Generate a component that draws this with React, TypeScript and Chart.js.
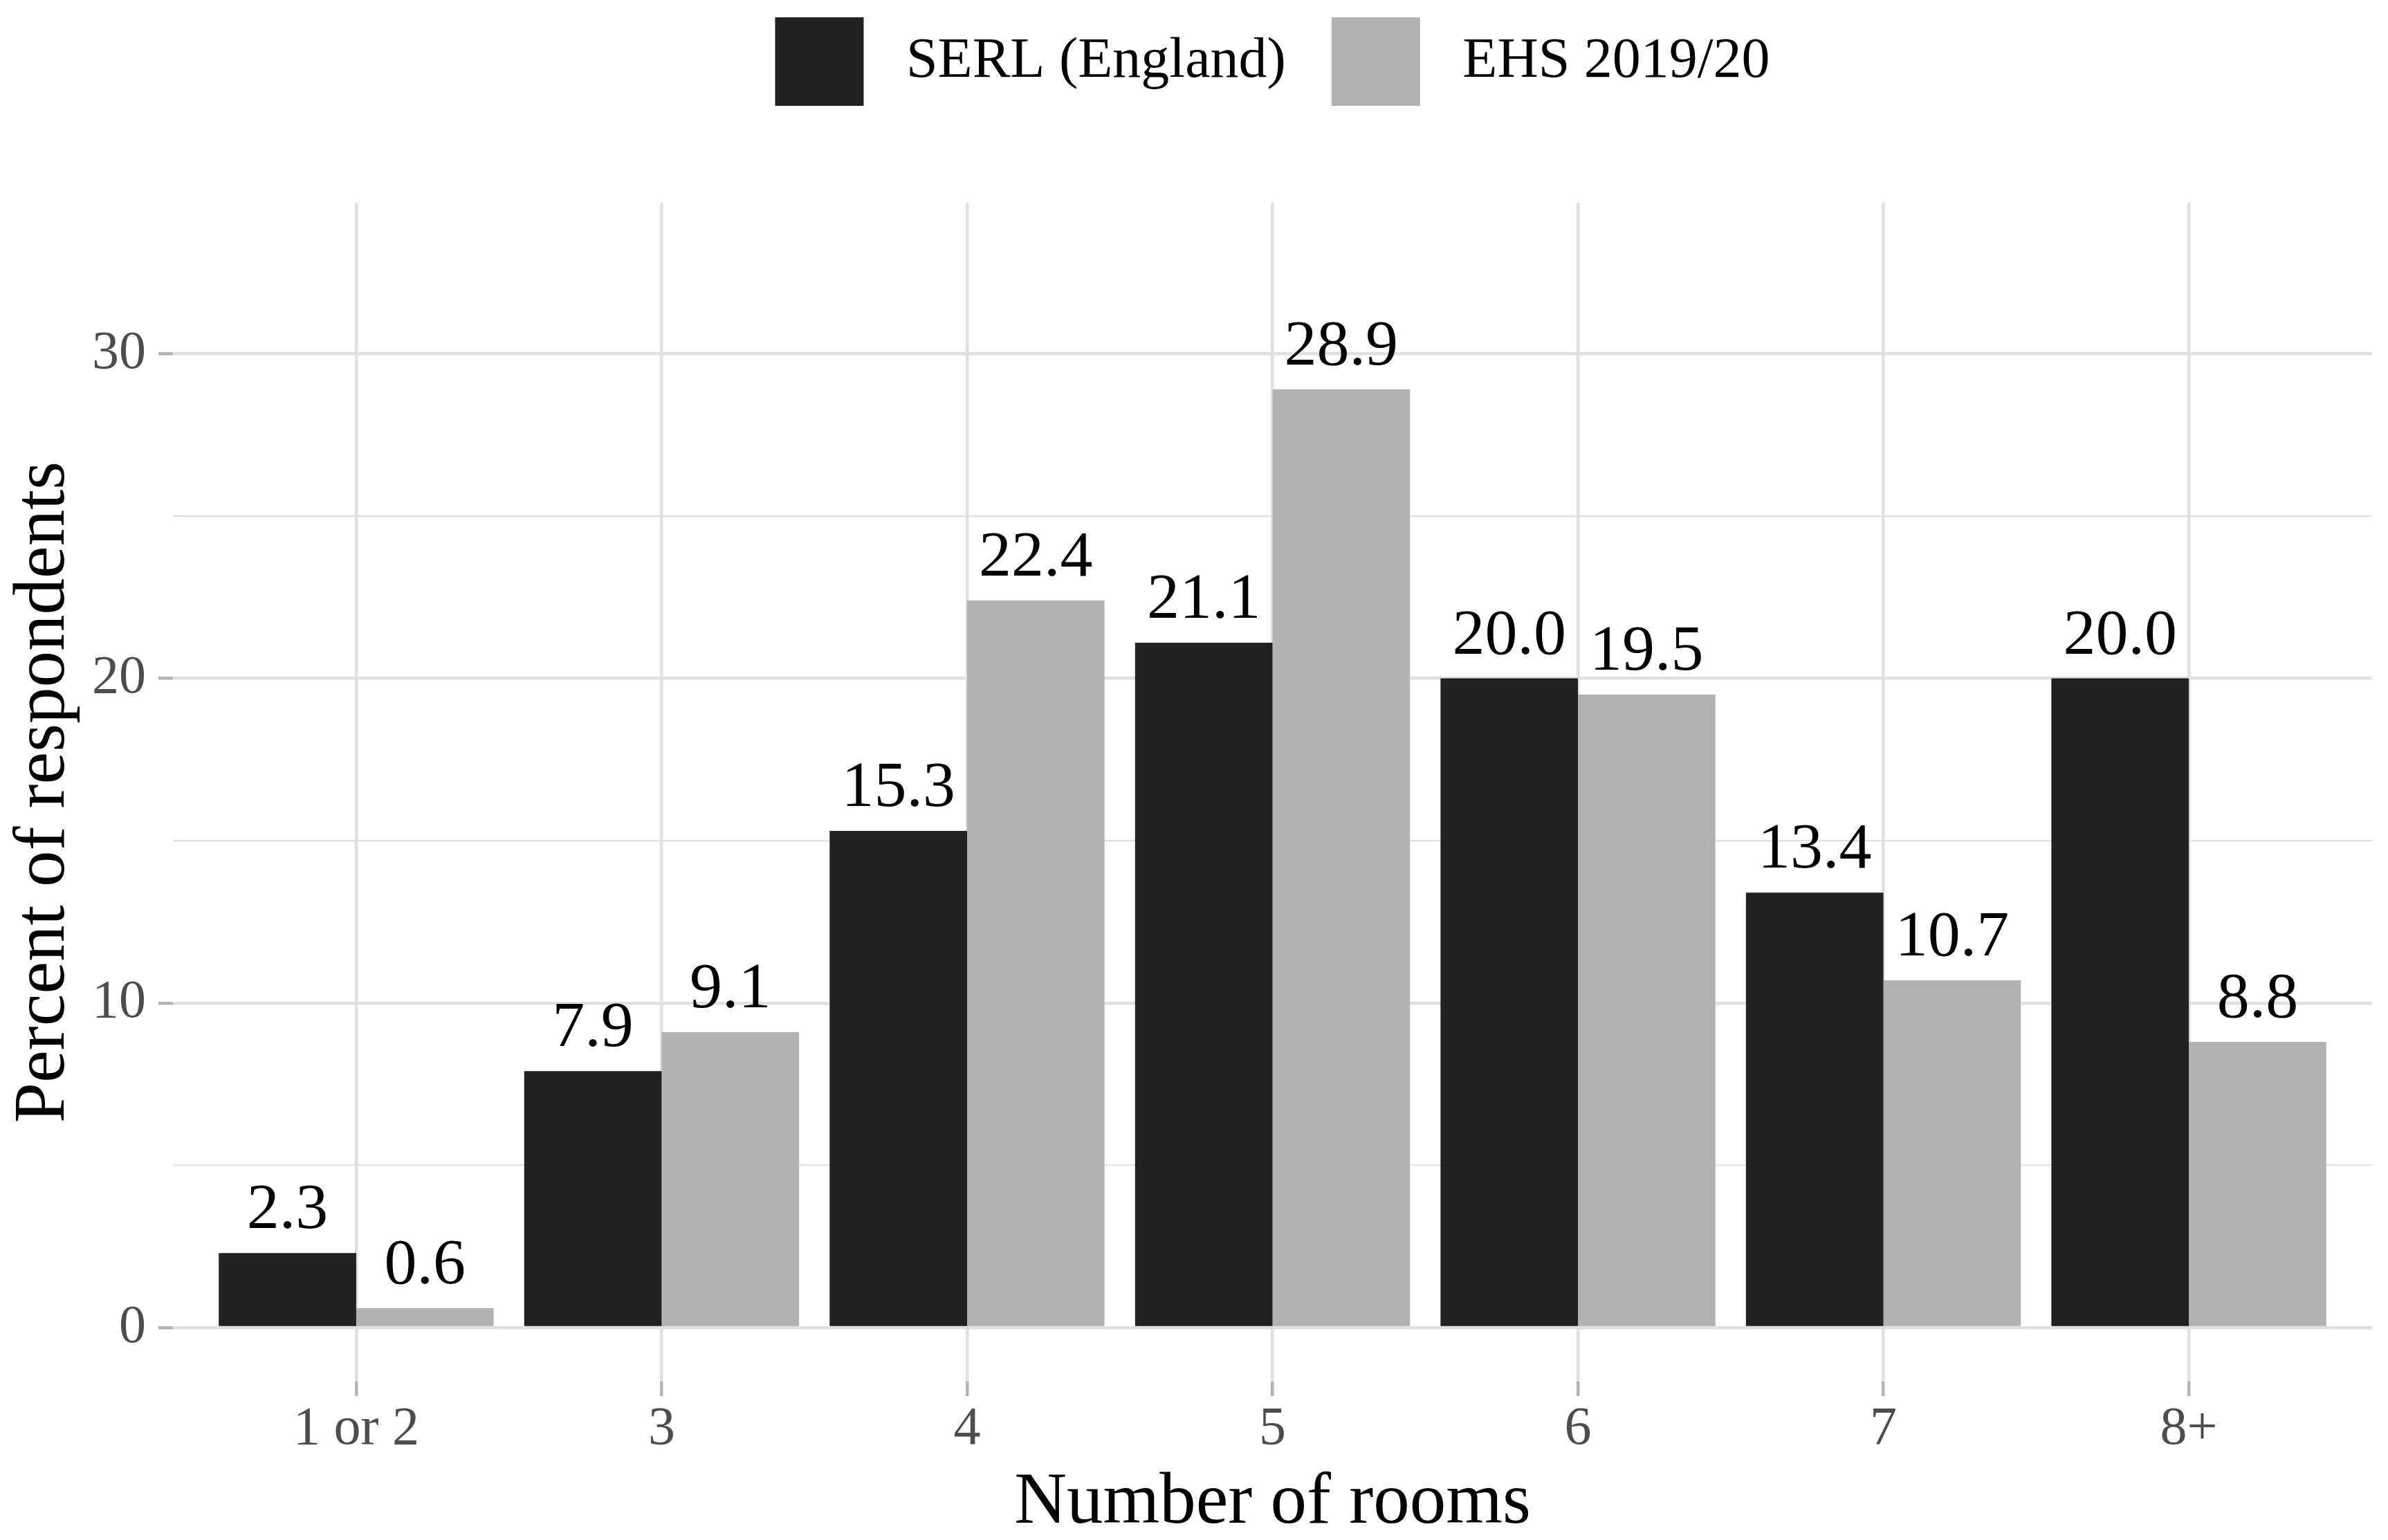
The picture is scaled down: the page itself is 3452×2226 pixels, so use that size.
import React, { useEffect, useRef } from 'react';
import { Chart, registerables } from 'chart.js';
Chart.register(...registerables);

// rooms per dwelling, percent of respondents
const roomCategories = ['1 or 2', '3', '4', '5', '6', '7', '8+'];
const serlValues = [2.3, 7.9, 15.3, 21.1, 20.0, 13.4, 20.0];
const ehsValues = [0.6, 9.1, 22.4, 28.9, 19.5, 10.7, 8.8];
const seriesLabels = ['SERL (England)', 'EHS 2019/20'];
const yTickValues = [0, 5, 10, 15, 20, 25, 30];

const FONT = '"Liberation Serif", "Times New Roman", serif';
const GRID = '#e0e0e0';
const TICK_MARK = '#b3b3b3';
const TICK_TEXT = '#4d4d4d';

// value labels above each bar
const barLabels = {
    id: 'barLabels',
    afterDatasetsDraw(chart: Chart) {
        const ctx = chart.ctx;
        ctx.save();
        ctx.font = `94px ${FONT}`;
        ctx.fillStyle = '#000000';
        ctx.textAlign = 'center';
        ctx.textBaseline = 'alphabetic';
        chart.data.datasets.forEach((ds: any, di: number) => {
            const meta = chart.getDatasetMeta(di);
            meta.data.forEach((bar: any, j: number) => {
                const v = ds.data[j].y;
                ctx.fillText(v.toFixed(1), bar.x, bar.y - 36);
            });
        });
        ctx.restore();
    }
};

const RoomsChart: React.FC = () => {
    const chartRef = useRef<HTMLCanvasElement>(null);
    const chartInstance = useRef<Chart | null>(null);

    useEffect(() => {
        if (!chartRef.current) return;
        const ctx = chartRef.current.getContext('2d');
        if (!ctx) return;
        if (chartInstance.current) chartInstance.current.destroy();

        Chart.defaults.font.family = FONT;

        chartInstance.current = new Chart(ctx, {
            type: 'bar',
            data: {
                datasets: [
                    {
                        label: seriesLabels[0],
                        data: serlValues.map((v, i) => ({ x: i, y: v })),
                        backgroundColor: '#212121',
                        borderWidth: 0,
                        categoryPercentage: 0.9,
                        barPercentage: 1.0
                    },
                    {
                        label: seriesLabels[1],
                        data: ehsValues.map((v, i) => ({ x: i, y: v })),
                        backgroundColor: '#b2b2b2',
                        borderWidth: 0,
                        categoryPercentage: 0.9,
                        barPercentage: 1.0
                    }
                ]
            } as any,
            options: {
                animation: false,
                responsive: true,
                maintainAspectRatio: false,
                devicePixelRatio: 1,
                layout: { padding: { left: 0, right: 23, top: 0, bottom: 0 } },
                plugins: {
                    tooltip: { enabled: false },
                    legend: {
                        position: 'top',
                        fullSize: false,
                        align: 'center',
                        labels: {
                            boxWidth: 128,
                            boxHeight: 128,
                            padding: 25,
                            color: '#000000',
                            font: { size: 82 },
                            generateLabels: (chart: Chart) =>
                                Chart.defaults.plugins.legend.labels
                                    .generateLabels(chart)
                                    .map((item: any, i: number) => ({
                                        ...item,
                                        text: i === 0 ? ' ' + item.text + '  ' : ' ' + item.text,
                                        lineWidth: 0
                                    }))
                        }
                    },
                    // empty title used as a spacer between legend and panel
                    title: {
                        display: true,
                        text: '',
                        position: 'top',
                        fullSize: false,
                        weight: 500,
                        padding: { top: 130, bottom: 0 },
                        font: { size: 1, lineHeight: 0 }
                    }
                },
                scales: {
                    x: {
                        type: 'linear',
                        min: -0.6,
                        max: 6.6,
                        offset: false,
                        afterBuildTicks: (axis: any) => {
                            axis.ticks = roomCategories.map((_, i) => ({ value: i }));
                        },
                        afterFit: (axis: any) => { axis.height = 229; },
                        ticks: {
                            autoSkip: false,
                            maxRotation: 0,
                            color: TICK_TEXT,
                            font: { size: 78 },
                            padding: 2,
                            callback: (value: any) => roomCategories[value] ?? ''
                        },
                        grid: {
                            offset: false,
                            color: GRID,
                            lineWidth: 4.5,
                            tickColor: TICK_MARK,
                            tickLength: 21,
                            tickWidth: 4.5
                        },
                        border: { display: false },
                        title: {
                            display: true,
                            text: 'Number of rooms',
                            color: '#000000',
                            font: { size: 105, lineHeight: 1.0 },
                            padding: 0
                        }
                    },
                    y: {
                        min: -1.66,
                        max: 34.65,
                        afterBuildTicks: (axis: any) => {
                            axis.ticks = yTickValues.map(v => ({ value: v }));
                        },
                        afterFit: (axis: any) => { axis.width = 250; },
                        ticks: {
                            color: TICK_TEXT,
                            font: { size: 78 },
                            padding: 18,
                            callback: (value: any) => (value % 10 === 0 ? String(value) : '')
                        },
                        grid: {
                            color: GRID,
                            lineWidth: (c: any) => (c.tick && c.tick.value % 10 === 0 ? 4.5 : 2.3),
                            tickColor: (c: any) => (c.tick && c.tick.value % 10 === 0 ? TICK_MARK : 'rgba(0,0,0,0)'),
                            tickLength: 21,
                            tickWidth: 4.5
                        },
                        border: { display: false },
                        title: {
                            display: true,
                            text: 'Percent of respondents',
                            color: '#000000',
                            font: { size: 105, lineHeight: 1.0 },
                            padding: { top: 12, bottom: 0 }
                        }
                    }
                }
            } as any,
            plugins: [barLabels]
        });

        return () => {
            if (chartInstance.current) {
                chartInstance.current.destroy();
                chartInstance.current = null;
            }
        };
    }, []);

    return (
        <div style={{ position: 'absolute', left: 0, top: 0, width: 3452, height: 2226, background: '#ffffff' }}>
            <canvas ref={chartRef}></canvas>
        </div>
    );
};

export default function App() {
    return <RoomsChart />;
}
